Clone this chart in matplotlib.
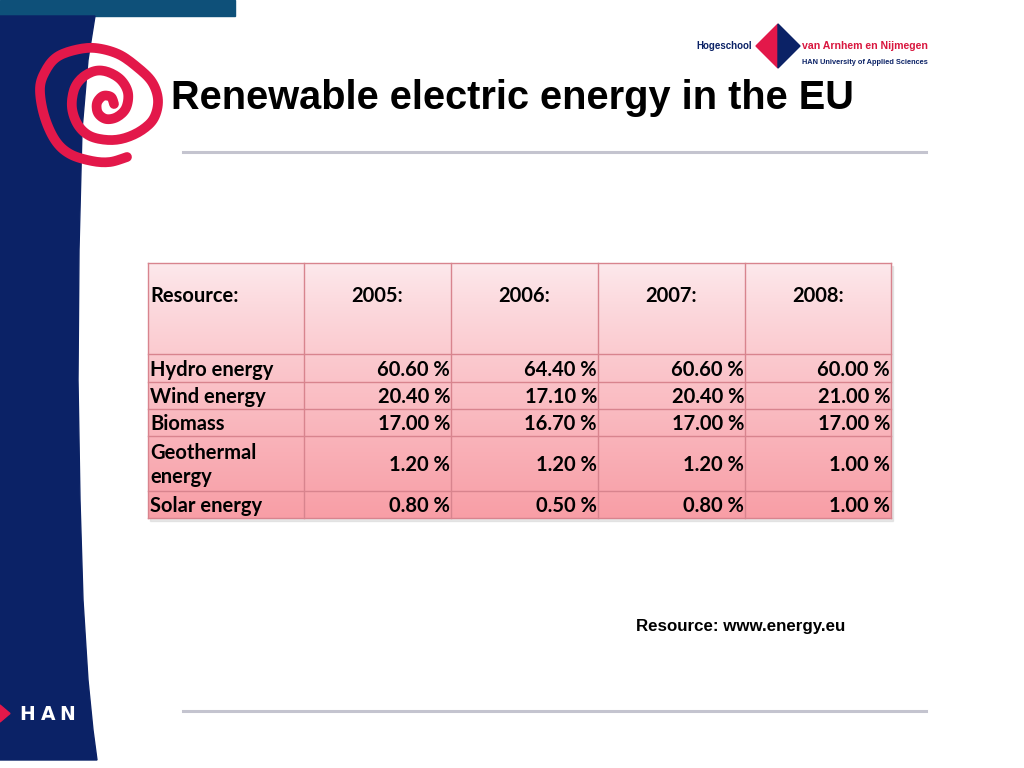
import numpy as np
import matplotlib
matplotlib.use("Agg")
import matplotlib.pyplot as plt
from matplotlib.patches import Polygon, Rectangle

# ---- data ----
title = "Renewable electric energy in the EU"
header_first = "Resource:"
years = ["2005:", "2006:", "2007:", "2008:"]
resources = ["Hydro energy", "Wind energy", "Biomass", "Geothermal\nenergy", "Solar energy"]
hydro = [60.60, 64.40, 60.60, 60.00]
wind = [20.40, 17.10, 20.40, 21.00]
biomass = [17.00, 16.70, 17.00, 17.00]
geothermal = [1.20, 1.20, 1.20, 1.00]
solar = [0.80, 0.50, 0.80, 1.00]
rows = [hydro, wind, biomass, geothermal, solar]
source_note = "Resource: www.energy.eu"

# ---- layout (pixels) ----
W, H = 1024, 768
fig = plt.figure(figsize=(W / 100, H / 100), dpi=100)
ax = fig.add_axes([0, 0, 1, 1])
ax.set_xlim(0, W)
ax.set_ylim(H, 0)
ax.axis("off")

NAVY = "#0b2266"
RED = "#e3184a"

# top strip
ax.add_patch(Rectangle((0, 0), 235, 16, color="#0e5079", zorder=1))
# navy band
band = [(0, 16), (95, 16), (88, 60), (82, 130), (79, 250), (78, 380),
        (80, 500), (83, 600), (88, 680), (93, 730), (97, 760), (0, 760)]
ax.add_patch(Polygon(band, closed=True, color=NAVY, zorder=1))

# spiral logo (decorative path)
logo_pts = [(127, 157), (110, 162), (92, 161), (70, 154), (55, 140), (44, 115), (40, 88),
            (46, 70), (57, 57), (75, 50), (95, 48), (118, 54), (137, 67), (152, 82),
            (158, 100), (154, 118), (142, 130), (125, 138), (108, 140), (90, 136),
            (78, 125), (72, 108), (74, 90), (82, 78), (95, 71), (108, 72), (121, 80),
            (128, 93), (126, 108), (117, 117), (106, 119), (98, 113), (97, 103),
            (103, 96), (111, 97), (114, 104)]
lp = np.array(logo_pts, dtype=float)

def smooth(p, k=8):
    out = []
    pp = np.vstack([p[0], p, p[-1]])
    for i in range(1, len(pp) - 2):
        p0, p1, p2, p3 = pp[i - 1], pp[i], pp[i + 1], pp[i + 2]
        for s in np.linspace(0, 1, k, endpoint=False):
            out.append(0.5 * ((2 * p1) + (-p0 + p2) * s + (2 * p0 - 5 * p1 + 4 * p2 - p3) * s ** 2
                              + (-p0 + 3 * p1 - 3 * p2 + p3) * s ** 3))
    out.append(pp[-2])
    return np.array(out)

sp = smooth(lp)
ax.plot(sp[:, 0], sp[:, 1], color=RED, lw=7.0, solid_capstyle="round",
        solid_joinstyle="round", zorder=3)

# HAN text bottom-left
ax.add_patch(Polygon([(0, 705), (10, 713.5), (0, 722)], closed=True, color=RED, zorder=3))
for ch, xc in zip("HAN", (27.5, 48.5, 67.5)):
    ax.text(xc, 714, ch, color="white", fontsize=13.5, fontweight="bold",
            family="Liberation Sans Narrow", va="center", ha="center", zorder=4)

# title
ax.text(171, 98, title, fontsize=28.6, fontweight="bold", family="Liberation Sans",
        va="center", ha="left", color="black", zorder=4)
# separator lines
for yy in (152, 711):
    ax.plot([183, 926], [yy, yy], color="#c4c4cf", lw=2.2, zorder=2)

# top-right logo
ax.text(752, 46, "Hogeschool", fontsize=7.0, fontweight="bold", family="Liberation Sans",
        color=NAVY, va="center", ha="right")
ax.add_patch(Polygon([(778, 24), (756, 46), (778, 68)], closed=True, color=RED))
ax.add_patch(Polygon([(778, 24), (800, 46), (778, 68)], closed=True, color=NAVY))
ax.text(802, 46, "van Arnhem en Nijmegen", fontsize=7.6, fontweight="bold",
        family="Liberation Sans", color="#d9173f", va="center", ha="left")
ax.text(802, 63, "HAN University of Applied Sciences", fontsize=5.3, fontweight="bold",
        family="Liberation Sans", color=NAVY, va="center", ha="left")

# ---- table ----
col_x = [148, 304, 451, 598, 745, 891]
row_y = [263, 354, 382, 409, 436, 491, 518]
top, bot = row_y[0], row_y[-1]
left, right = col_x[0], col_x[-1]

# shadow
ax.add_patch(Rectangle((left + 2, top + 3), right - left, bot - top,
                       color="#d8d8d8", alpha=0.6, zorder=2))
# gradient fill
n = 256
t = np.linspace(0, 1, n)[:, None]
c_top = np.array([253, 234, 237]) / 255
c_bot = np.array([248, 158, 166]) / 255
grad = c_top + (c_bot - c_top) * t ** 0.85
img = np.repeat(grad[:, None, :], 2, axis=1)
ax.imshow(img, extent=(left, right, bot, top), aspect="auto", zorder=3,
          interpolation="bilinear")

LINE = "#d8848e"
for x in col_x:
    ax.plot([x, x], [top, bot], color=LINE, lw=1.0, zorder=4)
for y in row_y:
    ax.plot([left, right], [y, y], color=LINE, lw=1.0, zorder=4)

FONT = "Lato"
FS = 14.5
ax.text(col_x[0] + 2, 296, header_first, fontsize=FS, fontweight="bold",
        family=FONT, va="center", ha="left", zorder=5)
for i, yr in enumerate(years):
    ax.text((col_x[i + 1] + col_x[i + 2]) / 2, 296, yr, fontsize=FS, fontweight="bold",
            family=FONT, va="center", ha="center", zorder=5)

for j, (name, vals) in enumerate(zip(resources, rows)):
    y0, y1 = row_y[j + 1], row_y[j + 2]
    yc = (y0 + y1) / 2 + 1.5
    ax.text(col_x[0] + 2, yc, name, fontsize=FS, fontweight="bold", family=FONT,
            va="center", ha="left", zorder=5, linespacing=1.25)
    for i, v in enumerate(vals):
        ax.text(col_x[i + 2] - 1, yc, f"{v:.2f} %", fontsize=FS, fontweight="bold",
                family=FONT, va="center", ha="right", zorder=5)

ax.text(636, 627, source_note, fontsize=12.2, fontweight="bold", family="Liberation Sans",
        va="center", ha="left", zorder=5)

fig.savefig("out.png", dpi=100)
